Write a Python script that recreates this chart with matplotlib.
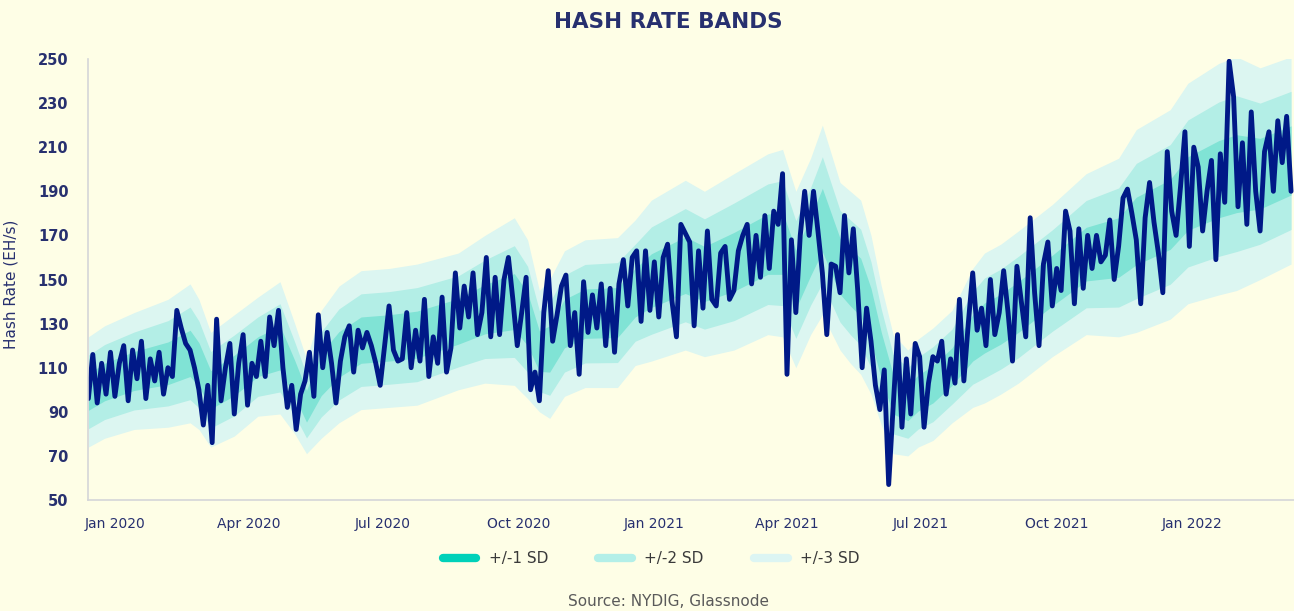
import matplotlib
matplotlib.use("Agg")
import matplotlib.pyplot as plt
import matplotlib.dates as mdates
from matplotlib.lines import Line2D
import numpy as np
import pandas as pd

# daily hash rate sampled every 3 days, starting 2019-12-14 (EH/s)
start_date = "2019-12-14"
hash_rate = [
    96, 116, 94, 112, 98, 117, 97, 112, 120, 95,
    118, 105, 122, 96, 114, 104, 117, 98, 110, 106,
    136, 128, 121, 118, 110, 100, 84, 102, 76, 132,
    95, 110, 121, 89, 112, 125, 93, 112, 106, 122,
    106, 133, 120, 136, 110, 92, 102, 82, 98, 104,
    117, 97, 134, 110, 126, 112, 94, 113, 124, 129,
    108, 127, 119, 126, 120, 112, 102, 120, 138, 118,
    113, 114, 135, 110, 127, 113, 141, 106, 124, 112,
    142, 108, 119, 153, 128, 147, 133, 153, 125, 135,
    160, 124, 151, 125, 150, 160, 141, 120, 135, 151,
    100, 108, 95, 135, 154, 122, 134, 147, 152, 120,
    135, 107, 149, 126, 143, 128, 148, 120, 146, 117,
    148, 159, 138, 160, 163, 131, 163, 136, 158, 133,
    160, 166, 140, 124, 175, 171, 167, 129, 163, 137,
    172, 141, 138, 162, 165, 141, 145, 163, 170, 175,
    148, 170, 151, 179, 155, 181, 175, 198, 107, 168,
    135, 170, 190, 170, 190, 172, 153, 125, 157, 156,
    144, 179, 153, 173, 145, 110, 137, 122, 102, 91,
    109, 57, 92, 125, 83, 114, 89, 121, 115, 83,
    103, 115, 113, 122, 98, 114, 103, 141, 104, 130,
    153, 127, 137, 120, 150, 125, 135, 154, 135, 113,
    156, 140, 124, 178, 144, 120, 157, 167, 138, 155,
    145, 181, 172, 139, 173, 146, 170, 155, 170, 158,
    161, 177, 150, 165, 187, 191, 180, 168, 139, 178,
    194, 176, 162, 144, 208, 181, 170, 192, 217, 165,
    210, 201, 172, 190, 204, 159, 207, 185, 249, 233,
    183, 212, 175, 226, 190, 172, 208, 217, 190, 222,
    203, 224, 190,
]

# outer (+/-3 SD) band edges
band_dates = [
    "2019-12-14", "2019-12-25", "2020-01-14", "2020-02-06", "2020-02-21",
    "2020-02-27", "2020-03-06", "2020-03-22", "2020-04-07", "2020-04-22",
    "2020-05-02", "2020-05-10", "2020-05-20", "2020-06-01", "2020-06-16",
    "2020-07-05", "2020-07-24", "2020-08-21", "2020-09-08", "2020-09-28",
    "2020-10-07", "2020-10-15", "2020-10-22", "2020-11-01", "2020-11-15",
    "2020-12-07", "2020-12-19", "2020-12-30", "2021-01-22", "2021-02-04",
    "2021-02-24", "2021-03-19", "2021-03-29", "2021-04-07", "2021-04-17",
    "2021-04-25", "2021-05-07", "2021-05-14", "2021-05-21", "2021-05-28",
    "2021-06-04", "2021-06-12", "2021-06-22", "2021-06-29", "2021-07-09",
    "2021-07-22", "2021-08-05", "2021-08-13", "2021-08-24", "2021-09-05",
    "2021-09-28", "2021-10-21", "2021-11-12", "2021-11-24", "2021-12-17",
    "2021-12-29", "2022-01-19", "2022-01-31", "2022-02-16", "2022-03-09",
]
band_upper = [
    124, 129, 135, 141, 148, 141, 126, 134, 142, 149,
    130, 114, 136, 147, 154, 155, 157, 162, 170, 178,
    168, 145, 150, 163, 168, 169, 177, 186, 195, 190,
    198, 207, 209, 190, 205, 220, 194, 190, 186, 170,
    147, 125, 118, 123, 128, 136, 155, 162, 166, 172,
    184, 198, 205, 218, 227, 239, 248, 251, 246, 251,
]
band_lower = [
    74, 78, 82, 83, 85, 82, 74, 79, 88, 89,
    80, 71, 78, 85, 91, 92, 93, 100, 103, 102,
    96, 90, 87, 97, 101, 101, 111, 113, 118, 115,
    118, 125, 124, 110, 125, 134, 118, 112, 107, 98,
    84, 71, 70, 74, 77, 85, 92, 94, 98, 103,
    115, 125, 124, 126, 132, 139, 143, 145, 150, 157,
]

BG = "#fefee6"
NAVY = "#001987"
TEXT = "#27306f"

dates = pd.date_range(start_date, periods=len(hash_rate), freq="3D")
bd = pd.to_datetime(band_dates)
upper = np.array(band_upper, dtype=float)
lower = np.array(band_lower, dtype=float)
mid = (upper + lower) / 2
sd = (upper - lower) / 6

fig = plt.figure(figsize=(12.94, 6.11), dpi=100, facecolor=BG)
ax = fig.add_axes([88 / 1294, 1 - 500 / 611, (1294 - 88) / 1294, (500 - 59) / 611])
ax.set_facecolor(BG)

# bands, widest first
fill_colors = {3: "#dcf6f1", 2: "#b3eee6", 1: "#80e3d5"}
for k in [3, 2, 1]:
    ax.fill_between(bd, mid - k * sd, mid + k * sd, color=fill_colors[k], lw=0)

ax.plot(dates, hash_rate, color=NAVY, lw=3.5, solid_joinstyle="round", solid_capstyle="round")

# axes format
ax.set_ylim(50, 250)
ax.set_yticks(range(50, 251, 20))
ax.set_xlim(pd.Timestamp("2019-12-13 18:00"), pd.Timestamp("2022-03-11"))
ax.xaxis.set_major_locator(mdates.MonthLocator(bymonth=[1, 4, 7, 10]))
ax.xaxis.set_major_formatter(mdates.DateFormatter("%b %Y"))
ax.tick_params(axis="both", length=0)
ax.tick_params(axis="y", pad=14, labelsize=10.5, labelcolor=TEXT)
ax.tick_params(axis="x", pad=12, labelsize=10, labelcolor=TEXT)
for lbl in ax.get_yticklabels():
    lbl.set_fontweight("bold")
for side in ["top", "right"]:
    ax.spines[side].set_visible(False)
for side in ["left", "bottom"]:
    ax.spines[side].set_color("#d4d6d8")
    ax.spines[side].set_linewidth(1.2)

ax.set_ylabel("Hash Rate (EH/s)", fontsize=11, color=TEXT)
ax.yaxis.set_label_coords(-0.058, 0.49)

fig.text(668 / 1294, 1 - 22 / 611, "HASH RATE BANDS", ha="center", va="center",
         fontsize=15.5, fontweight="bold", color=TEXT)

handles = [
    Line2D([], [], color="#00d1b9", lw=6, solid_capstyle="round"),
    Line2D([], [], color="#b3efe8", lw=6, solid_capstyle="round"),
    Line2D([], [], color="#dcf5f3", lw=6, solid_capstyle="round"),
]
fig.legend(handles, ["+/-1 SD", "+/-2 SD", "+/-3 SD"], loc="center",
           bbox_to_anchor=(651 / 1294, 1 - 559 / 611), ncol=3, frameon=False,
           handlelength=2.2, columnspacing=3.3, handletextpad=0.8,
           prop={"size": 11}, labelcolor="#3a3a3a")

fig.text(668 / 1294, 1 - 601 / 611, "Source: NYDIG, Glassnode", ha="center", va="center",
         fontsize=11, color="#5a5a5a")

fig.savefig("out.png", dpi=100, facecolor=BG)
